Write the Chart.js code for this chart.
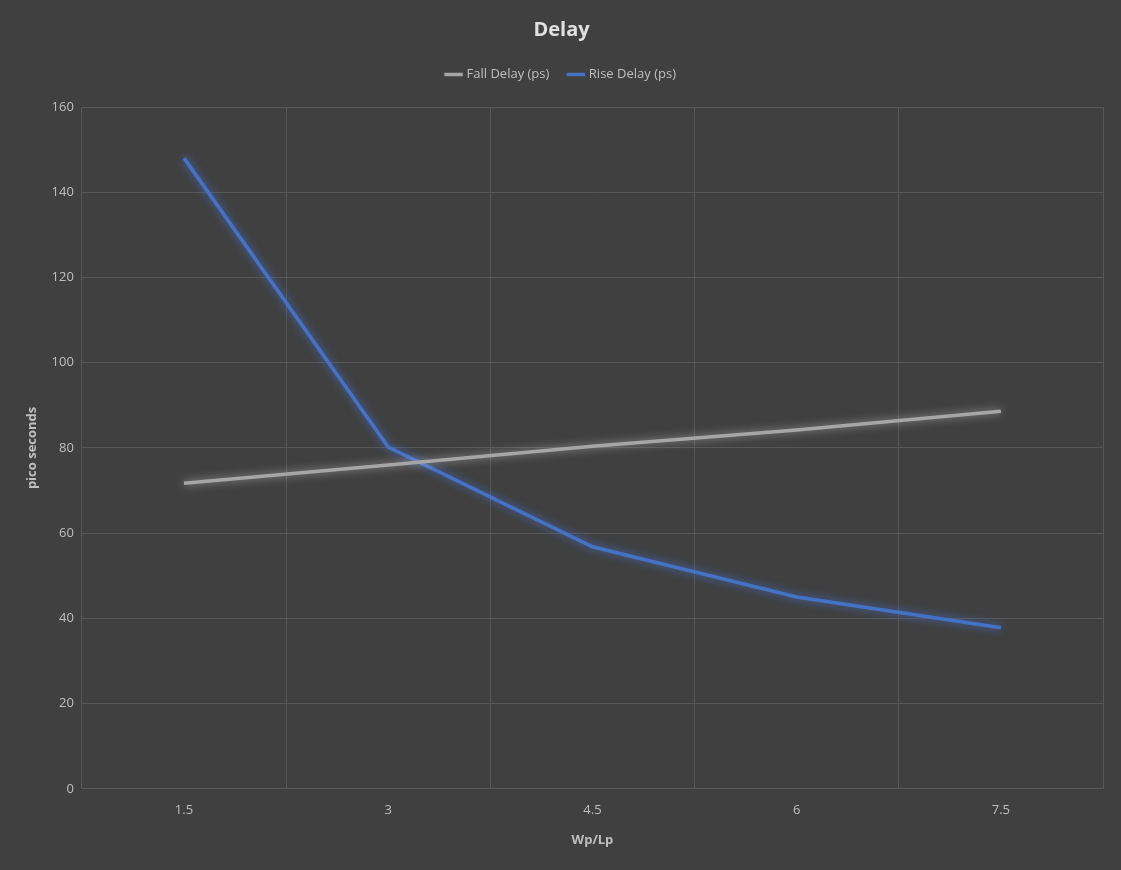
<!DOCTYPE html>
<html>
<head>
<meta charset="utf-8">
<script src="https://cdn.jsdelivr.net/npm/chart.js@4"></script>
<style>
  html, body { margin: 0; padding: 0; background: #404040; }
  #wrap { width: 1121px; height: 870px; }
</style>
</head>
<body>
<div id="wrap"><canvas id="c"></canvas></div>
<script>
// Chart data
const categories = ["1.5", "3", "4.5", "6", "7.5"];
const fallDelay = [71.7, 76.0, 80.4, 84.2, 88.6];
const riseDelay = [148.0, 80.2, 56.8, 45.0, 37.8];

const TEXT = "#bfbfbf";
const GRID = "#575757";

// soft glow under the lines, like the Excel style
const glow = {
  id: "glow",
  beforeDatasetDraw(chart, args) {
    const ctx = chart.ctx;
    ctx.save();
    ctx.shadowColor = args.index === 1 ? "rgba(70,120,230,0.8)" : "rgba(220,220,220,0.6)";
    ctx.shadowBlur = 8;
  },
  afterDatasetDraw(chart) {
    chart.ctx.restore();
  },
};

// extra room under the legend
const legendGap = {
  id: "legendGap",
  beforeInit(chart) {
    const fit = chart.legend.fit;
    chart.legend.fit = function () {
      fit.call(this);
      this.height += 16;
    };
  },
};

new Chart(document.getElementById("c"), {
  type: "line",
  data: {
    labels: categories,
    datasets: [
      { label: "Fall Delay (ps)", data: fallDelay, borderColor: "#a6a6a6", backgroundColor: "#a6a6a6", borderWidth: 3.5, pointRadius: 0, tension: 0 },
      { label: "Rise Delay (ps)", data: riseDelay, borderColor: "#4472c4", backgroundColor: "#4472c4", borderWidth: 3.5, pointRadius: 0, tension: 0 },
    ],
  },
  options: {
    responsive: true,
    maintainAspectRatio: false,
    animation: false,
    layout: { padding: { left: 20, right: 18, top: 12, bottom: 22 } },
    plugins: {
      title: { display: true, text: "Delay", color: "#e0e0e0", font: { family: "Open Sans", size: 20, weight: "bold" }, padding: { top: 6, bottom: 6 } },
      legend: {
        labels: { color: TEXT, usePointStyle: true, pointStyle: "line", boxWidth: 36, font: { family: "Open Sans", size: 13 }, padding: 20 },
      },
      tooltip: { enabled: false },
    },
    scales: {
      x: {
        offset: true,
        grid: { offset: true, color: GRID, drawTicks: false },
        border: { color: GRID },
        ticks: { color: TEXT, font: { family: "Open Sans", size: 13 }, padding: 14 },
        title: { display: true, text: "Wp/Lp", color: TEXT, font: { family: "Open Sans", size: 13, weight: "bold" }, padding: { top: 0, bottom: 0 } },
      },
      y: {
        min: 0, max: 160,
        grid: { color: GRID, drawTicks: false },
        border: { display: false },
        ticks: { stepSize: 20, color: TEXT, font: { family: "Open Sans", size: 13 }, padding: 8 },
        title: { display: true, text: "pico seconds", color: TEXT, font: { family: "Open Sans", size: 13, weight: "bold" } },
      },
    },
  },
  plugins: [glow, legendGap],
});
</script>
</body>
</html>
